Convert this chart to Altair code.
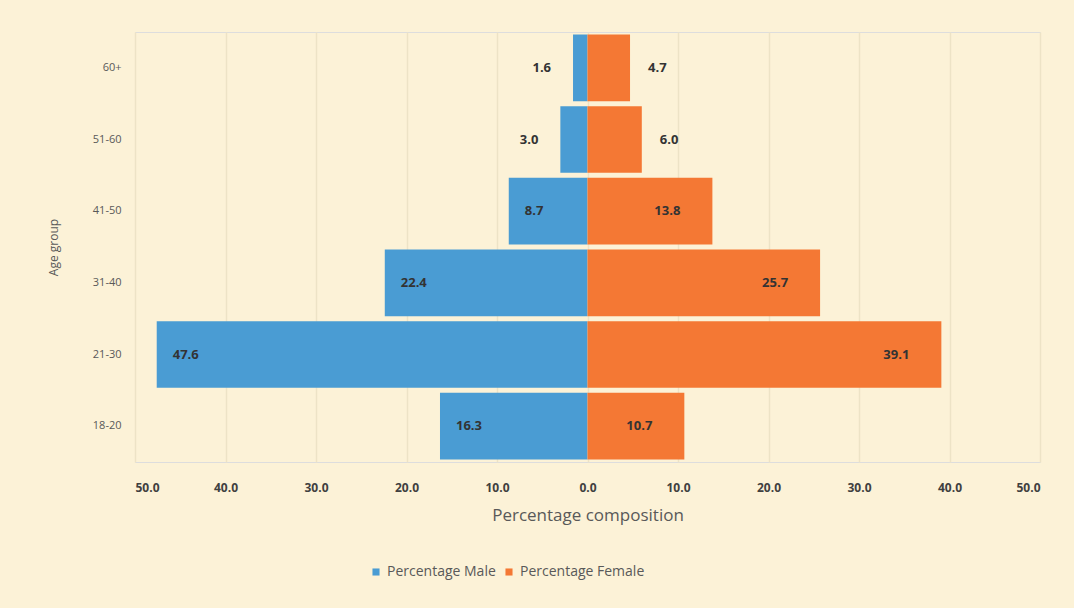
import altair as alt
import pandas as pd

ages = ["60+", "51-60", "41-50", "31-40", "21-30", "18-20"]
male = [1.6, 3.0, 8.7, 22.4, 47.6, 16.3]
female = [4.7, 6.0, 13.8, 25.7, 39.1, 10.7]
series = ["Percentage Male", "Percentage Female"]
ticks = [-50, -40, -30, -20, -10, 0, 10, 20, 30, 40, 50]

rows = []
for a, m, f in zip(ages, male, female):
    rows.append({"age": a, "sex": series[0], "value": -m, "label": f"{m:.1f}", "abs": m})
    rows.append({"age": a, "sex": series[1], "value": f, "label": f"{f:.1f}", "abs": f})
df = pd.DataFrame(rows)

FONT = "Open Sans"
TXT = "#595959"

x = alt.X("value:Q", scale=alt.Scale(domain=[-50, 50], nice=False),
          axis=alt.Axis(values=ticks, labelExpr="format(abs(datum.value), '.1f')",
                        title="Percentage composition", titleFontSize=17,
                        titleFontWeight="normal", titleColor=TXT, titlePadding=14,
                        labelFontSize=12, labelColor="#404040", labelPadding=20,
                        labelFontWeight="bold",
                        domain=False, ticks=False, grid=True, gridColor="#EDE3C6",
                        gridWidth=1.5))
y = alt.Y("age:N", sort=ages,
          scale=alt.Scale(paddingInner=0.07, paddingOuter=0.035),
          axis=alt.Axis(title="Age group", titleFontSize=12, titleFontWeight="normal",
                        titleColor=TXT, titlePadding=32, labelFontSize=11,
                        labelColor=TXT, labelPadding=14, domain=False, ticks=False))

bars = alt.Chart(df).mark_bar().encode(
    x=x, y=y,
    color=alt.Color("sex:N", sort=series,
                    scale=alt.Scale(domain=series, range=["#4A9CD3", "#F47834"]),
                    legend=alt.Legend(title=None, orient="none", direction="horizontal",
                                      legendX=234, legendY=533, labelFontSize=14,
                                      labelColor=TXT, symbolType="square",
                                      symbolSize=50, columnPadding=6, labelFont=FONT)),
)

base_txt = alt.Chart(df).encode(x="value:Q", y=alt.Y("age:N", sort=ages), text="label:N")
tstyle = dict(fontSize=13, font=FONT, color="#333333", fontWeight="bold", baseline="middle")

male_in = base_txt.transform_filter(
    (alt.datum.sex == series[0]) & (alt.datum.abs >= 7)).mark_text(align="left", dx=16, **tstyle)
male_out = base_txt.transform_filter(
    (alt.datum.sex == series[0]) & (alt.datum.abs < 7)).mark_text(align="right", dx=-22, **tstyle)
fem_in = base_txt.transform_filter(
    (alt.datum.sex == series[1]) & (alt.datum.abs >= 7)).mark_text(align="right", dx=-32, **tstyle)
fem_out = base_txt.transform_filter(
    (alt.datum.sex == series[1]) & (alt.datum.abs < 7)).mark_text(align="left", dx=18, **tstyle)

chart = alt.layer(bars, male_in, male_out, fem_in, fem_out).properties(
    width=905, height=430,
    autosize=alt.AutoSizeParams(type="none"),
    padding={"left": 135, "top": 32, "right": 34, "bottom": 146},
    background="#FCF2D7",
).configure_view(stroke=None).configure(font=FONT)

chart.save("out.html", embed_options={"renderer": "svg", "actions": False})
